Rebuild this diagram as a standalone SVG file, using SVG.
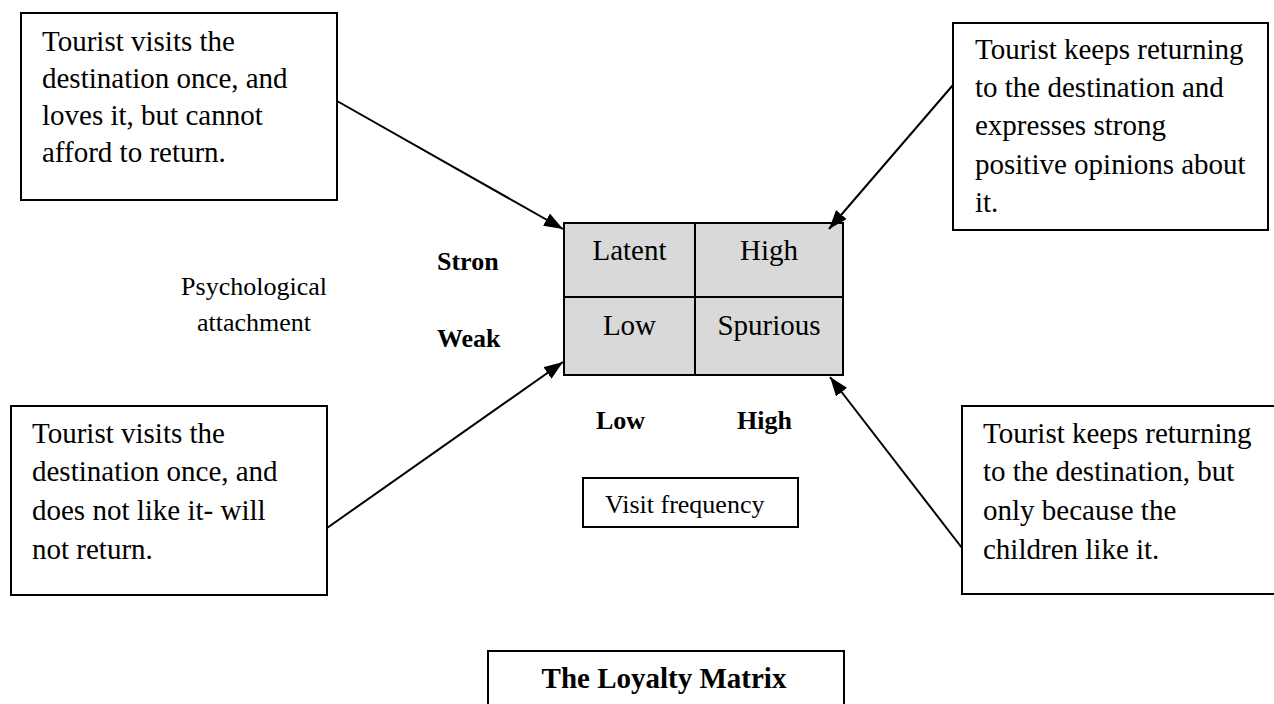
<svg xmlns="http://www.w3.org/2000/svg" width="1274" height="704" viewBox="0 0 1274 704">
  <style>
    .box { fill: #ffffff; stroke: #000000; stroke-width: 2; }
    .cell { fill: #d9d9d9; stroke: #000000; stroke-width: 2; }
    .txt { font-family: "Liberation Serif", "Times New Roman", serif; font-size: 29px; fill: #000000; }
    .mid { text-anchor: middle; }
    .lbl { font-family: "Liberation Serif", "Times New Roman", serif; font-size: 26px; fill: #000000; }
    .bold { font-weight: bold; }
    .link { stroke: #000000; stroke-width: 2; fill: none; }
  </style>
  <defs>
    <marker id="arrow" markerUnits="userSpaceOnUse" markerWidth="20" markerHeight="14" refX="19" refY="7" orient="auto">
      <path d="M0,0 L19,7 L0,14 z" fill="#000000"/>
    </marker>
  </defs>

  <rect width="1274" height="704" fill="#ffffff"/>

  <!-- Scenario boxes -->
  <g id="latent-note">
    <rect class="box" x="21" y="13" width="316" height="187"/>
    <text class="txt" x="42" y="51">Tourist visits the</text>
    <text class="txt" x="42" y="88">destination once, and</text>
    <text class="txt" x="42" y="125">loves it, but cannot</text>
    <text class="txt" x="42" y="162">afford to return.</text>
  </g>

  <g id="high-note">
    <rect class="box" x="953" y="23" width="315" height="207"/>
    <text class="txt" x="975" y="59">Tourist keeps returning</text>
    <text class="txt" x="975" y="97">to the destination and</text>
    <text class="txt" x="975" y="135">expresses strong</text>
    <text class="txt" x="975" y="174">positive opinions about</text>
    <text class="txt" x="975" y="212">it.</text>
  </g>

  <g id="low-note">
    <rect class="box" x="11" y="406" width="316" height="189"/>
    <text class="txt" x="32" y="443">Tourist visits the</text>
    <text class="txt" x="32" y="481">destination once, and</text>
    <text class="txt" x="32" y="520">does not like it- will</text>
    <text class="txt" x="32" y="559">not return.</text>
  </g>

  <g id="spurious-note">
    <rect class="box" x="962" y="406" width="330" height="188"/>
    <text class="txt" x="983" y="443">Tourist keeps returning</text>
    <text class="txt" x="983" y="481">to the destination, but</text>
    <text class="txt" x="983" y="520">only because the</text>
    <text class="txt" x="983" y="559">children like it.</text>
  </g>

  <!-- Loyalty matrix -->
  <g id="matrix">
    <rect class="cell" x="564" y="223" width="131" height="74"/>
    <rect class="cell" x="695" y="223" width="148" height="74"/>
    <rect class="cell" x="564" y="297" width="131" height="78"/>
    <rect class="cell" x="695" y="297" width="148" height="78"/>
    <text class="txt mid" x="629.5" y="260">Latent</text>
    <text class="txt mid" x="769" y="260">High</text>
    <text class="txt mid" x="629.5" y="335">Low</text>
    <text class="txt mid" x="769" y="335">Spurious</text>
  </g>

  <!-- Axis labels -->
  <g id="y-axis">
    <text class="lbl mid" x="254" y="295">Psychological</text>
    <text class="lbl mid" x="254" y="331">attachment</text>
    <text class="lbl bold" x="437" y="270">Stron</text>
    <text class="lbl bold" x="437" y="347">Weak</text>
  </g>

  <g id="x-axis">
    <text class="lbl bold" x="596" y="429">Low</text>
    <text class="lbl bold" x="737" y="429">High</text>
    <rect class="box" x="583" y="478" width="215" height="49"/>
    <text class="lbl" x="605" y="513">Visit frequency</text>
  </g>

  <g id="title">
    <rect class="box" x="488" y="651" width="356" height="70"/>
    <text class="txt bold mid" x="664" y="688">The Loyalty Matrix</text>
  </g>

  <!-- Connectors -->
  <g id="connectors">
    <line class="link" x1="337" y1="101" x2="563" y2="229" marker-end="url(#arrow)"/>
    <line class="link" x1="953" y1="85" x2="829" y2="229" marker-end="url(#arrow)"/>
    <line class="link" x1="327" y1="528" x2="563" y2="362" marker-end="url(#arrow)"/>
    <line class="link" x1="962" y1="548" x2="830" y2="377" marker-end="url(#arrow)"/>
  </g>
</svg>
